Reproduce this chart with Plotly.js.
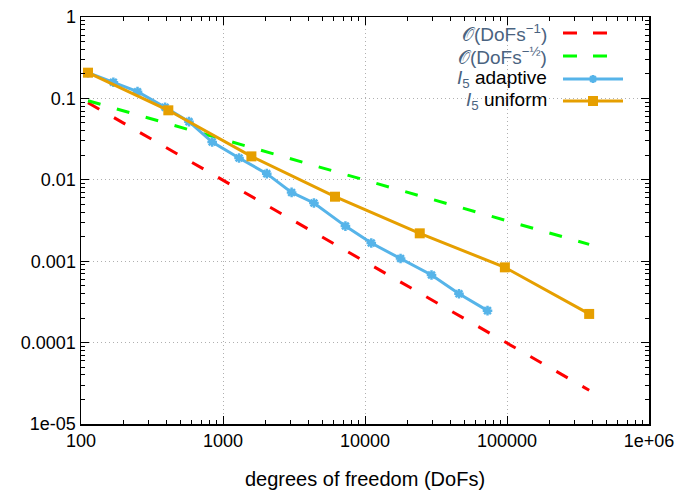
<!DOCTYPE html>
<html>
<head>
<meta charset="utf-8">
<script src="https://cdn.plot.ly/plotly-3.0.1.min.js"></script>
<style>html,body{margin:0;padding:0;background:#fff;}#chart{width:681px;height:490px;}</style>
</head>
<body>
<div id="chart"></div>
<script>
// ---- data ----
const uniformDofs = [112, 412, 1585, 6150, 24300, 96600, 379000];
const uniformErr  = [0.207, 0.0714, 0.0194, 0.0062, 0.0022, 0.00084, 0.000225];
const adaptiveDofs = [112, 169, 250, 391, 576, 839, 1297, 2033, 3041, 4367, 7280, 11070, 17800, 29400, 45900, 72900];
const adaptiveErr  = [0.207, 0.158, 0.121, 0.0777, 0.0518, 0.0291, 0.0185, 0.0119, 0.0070, 0.00519, 0.0027, 0.00167, 0.00108, 0.000677, 0.000399, 0.000247];
const refDofs      = [112, 379000];
const refOrder1    = [0.0885, 2.6e-5];
const refOrderHalf = [0.0937, 0.00161];

const xTickVals = [100, 1000, 10000, 100000, 1000000];
const xTickText = ['100', '1000', '10000', '100000', '1e+06'];
const yTickVals = [1e-5, 1e-4, 1e-3, 1e-2, 1e-1, 1];
const yTickText = ['1e-05', '0.0001', '0.001', '0.01', '0.1', '1'];

const legendLabels = [
  "<span style='color:#4a6380'>𝒪(DoFs<sup>−1</sup>)</span>",
  "<span style='color:#4a6380'>𝒪(DoFs<sup>−½</sup>)</span>",
  "<span style='color:#4a6380'><i>I</i><sub>5</sub></span> adaptive",
  "<span style='color:#4a6380'><i>I</i><sub>5</sub></span> uniform"
];
const RED = '#ff0000', GREEN = '#00ff00', BLUE = '#56b4e9', ORANGE = '#e69f00';

const FONT = 'Liberation Sans, Arial, sans-serif';

const traces = [
  {x: refDofs, y: refOrder1, mode: 'lines', line: {color: RED, width: 3, dash: '13px,17px'}},
  {x: refDofs, y: refOrderHalf, mode: 'lines', line: {color: GREEN, width: 3, dash: '13px,17px'}},
  {x: adaptiveDofs, y: adaptiveErr, mode: 'lines+markers', line: {color: BLUE, width: 3},
   marker: {symbol: 'asterisk-open', size: 8, color: BLUE, line: {color: BLUE, width: 2.5}}},
  {x: uniformDofs, y: uniformErr, mode: 'lines+markers', line: {color: ORANGE, width: 3},
   marker: {symbol: 'square', size: 10, color: ORANGE}}
];

// minor tick positions (2..9 per decade)
function minorTicks(lo, hi) {
  const out = [];
  for (let e = lo; e < hi; e++) for (let m = 2; m <= 9; m++) out.push(m * Math.pow(10, e));
  return out;
}

// manual gnuplot-style legend (text left, sample right)
const L = 81, R = 649, T = 17, B = 424;
const px = v => (v - L) / (R - L);
const py = v => (B - v) / (B - T);
const rowsY = [33, 56, 79, 101];
const sampleColors = [RED, GREEN, BLUE, ORANGE];
const annotations = legendLabels.map((t, i) => ({
  text: t, xref: 'paper', yref: 'paper', x: px(549), y: py(rowsY[i]),
  xanchor: 'right', yanchor: 'middle', showarrow: false,
  font: {family: FONT, size: 19, color: '#000'}
}));
const shapes = [];
[0, 1].forEach(i => shapes.push({type: 'line', xref: 'paper', yref: 'paper',
  x0: px(563), x1: px(607), y0: py(rowsY[i]), y1: py(rowsY[i]),
  line: {color: sampleColors[i], width: 3, dash: '14px,16px'}}));
[2, 3].forEach(i => shapes.push({type: 'line', xref: 'paper', yref: 'paper',
  x0: px(563), x1: px(623), y0: py(rowsY[i]), y1: py(rowsY[i]),
  line: {color: sampleColors[i], width: 3}}));
// adaptive sample marker (asterisk)
const cx = 593, cy = rowsY[2], r = 4;
[[-r,0,r,0],[0,-r,0,r],[-r*0.7,-r*0.7,r*0.7,r*0.7],[-r*0.7,r*0.7,r*0.7,-r*0.7]].forEach(s =>
  shapes.push({type: 'line', xref: 'paper', yref: 'paper',
    x0: px(cx + s[0]), y0: py(cy + s[1]), x1: px(cx + s[2]), y1: py(cy + s[3]),
    line: {color: BLUE, width: 2.5}}));
// uniform sample marker (square)
shapes.push({type: 'rect', xref: 'paper', yref: 'paper',
  x0: px(588), x1: px(598), y0: py(rowsY[3] + 5), y1: py(rowsY[3] - 5),
  fillcolor: ORANGE, line: {width: 0}});

const axisCommon = {
  type: 'log', showline: true, linecolor: '#000', linewidth: 1.5, mirror: 'ticks',
  ticks: 'inside', ticklen: 8, tickwidth: 1, tickcolor: '#000',
  showgrid: true, gridcolor: '#b0b0b0', gridwidth: 1, griddash: '1px,3px',
  zeroline: false, tickmode: 'array',
  tickfont: {family: FONT, size: 18, color: '#000'}
};

const layout = {
  width: 681, height: 490,
  margin: {l: L, r: 681 - R, t: T, b: 490 - B},
  paper_bgcolor: '#fff', plot_bgcolor: '#fff',
  showlegend: false,
  xaxis: Object.assign({}, axisCommon, {
    range: [2, 6], tickvals: xTickVals, ticktext: xTickText,
    minor: {tickmode: 'array', tickvals: minorTicks(2, 6), ticks: 'inside', ticklen: 4, tickcolor: '#000', showgrid: false},
    title: {text: 'degrees of freedom (DoFs)', font: {family: FONT, size: 20, color: '#000'}, standoff: 24}
  }),
  yaxis: Object.assign({}, axisCommon, {
    range: [-5, 0], tickvals: yTickVals, ticktext: yTickText,
    minor: {tickmode: 'array', tickvals: minorTicks(-5, 0), ticks: 'inside', ticklen: 4, tickcolor: '#000', showgrid: false}
  }),
  annotations: annotations,
  shapes: shapes
};

Plotly.newPlot('chart', traces, layout, {staticPlot: true, displayModeBar: false});
</script>
</body>
</html>
